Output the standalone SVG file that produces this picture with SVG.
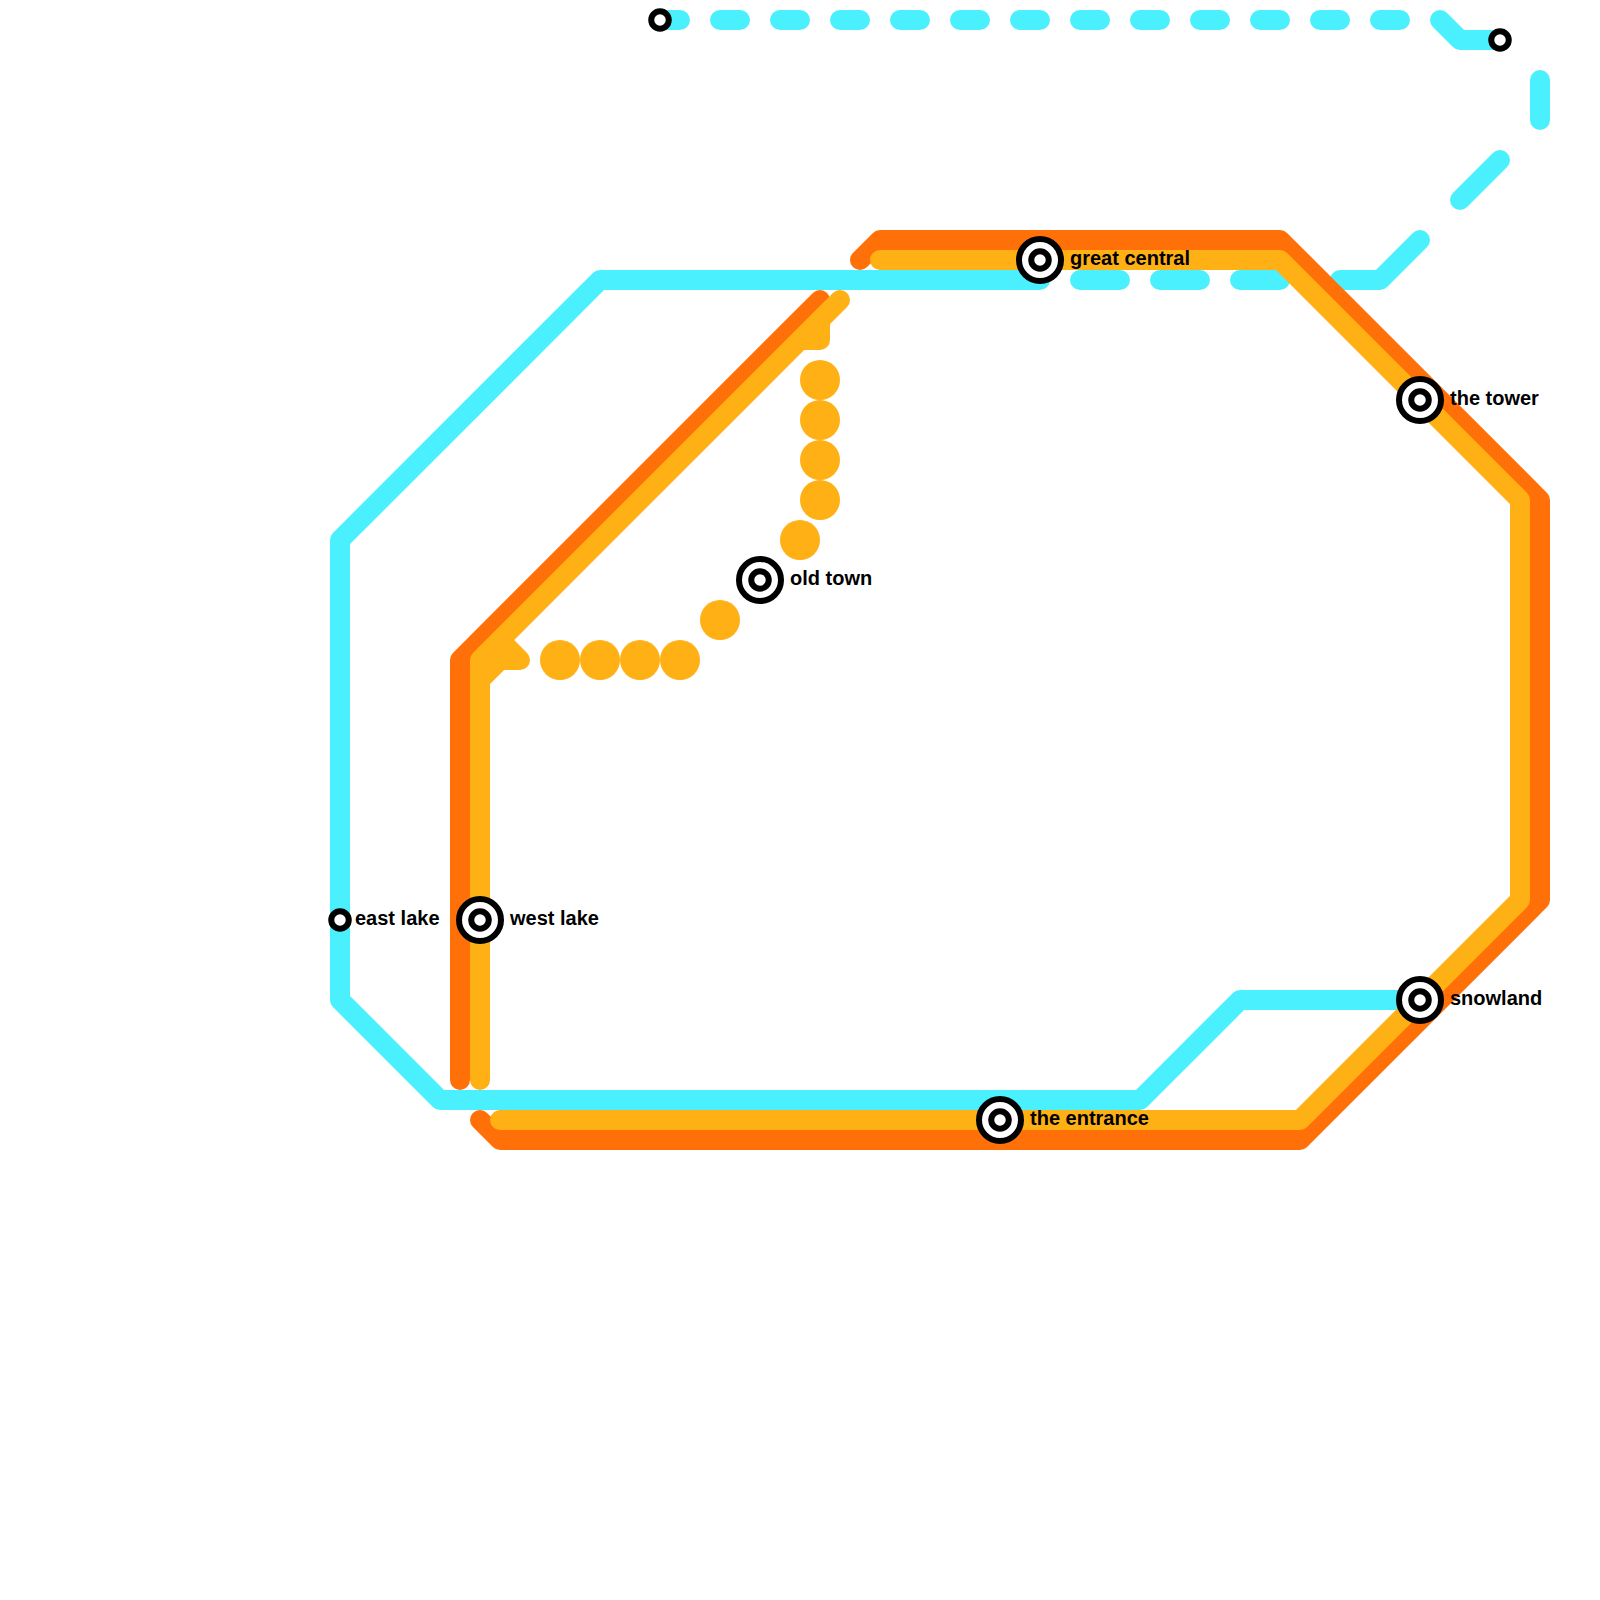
<svg xmlns="http://www.w3.org/2000/svg" width="1600" height="1600" viewBox="0 0 1600 1600">
<style>
.l{fill:none;stroke-width:20;stroke-linecap:round;stroke-linejoin:round}
.b{stroke:#4bf0ff}.o{stroke:#ff7008}.a{stroke:#ffb014}
.d{fill:#ffb014}
.r{fill:#fff;stroke:#000;stroke-width:6}
.i{fill:#fff;stroke:#000;stroke-width:6}
.s{fill:#fff;stroke:#000;stroke-width:6}
text{font-family:"Liberation Sans",Arial,sans-serif;font-size:20px;font-weight:700;fill:#000}
</style>
<rect width="1600" height="1600" fill="#fff"/>
<g id="connectors">
<path class="l b" d="M1040 280H600L340 540V1000L440 1100H1140L1240 1000H1420"/>
<path class="l b" stroke-dasharray="20 40" d="M660 20H1440"/>
<path class="l b" d="M1440 20L1460 40H1500M1080 280H1120M1160 280H1200M1240 280H1280M1340 280H1380L1420 240M1460 200L1500 160M1540 80V120"/>
<path class="l o" d="M480 1120L500 1140H1300L1540 900V500L1280 240H880L860 260"/>
<path class="l o" d="M460 1080V660L820 300"/>
<path class="l a" d="M500 1120H1300L1520 900V500L1280 260H880"/>
<path class="l a" d="M480 1080V660L840 300"/>
<path class="l a" d="M480 680L500 660H520L500 640M800 340H820V320"/>
<g class="d">
<circle cx="560" cy="660" r="20"/><circle cx="600" cy="660" r="20"/><circle cx="640" cy="660" r="20"/><circle cx="680" cy="660" r="20"/><circle cx="720" cy="620" r="20"/><circle cx="800" cy="540" r="20"/><circle cx="820" cy="500" r="20"/><circle cx="820" cy="460" r="20"/><circle cx="820" cy="420" r="20"/><circle cx="820" cy="380" r="20"/>
</g>
</g>
<g id="st-west-lake"><circle class="r" cx="480" cy="920" r="21"/><circle class="i" cx="480" cy="920" r="8.75"/><text x="510" y="925">west lake</text></g>
<g id="st-old-town"><circle class="r" cx="760" cy="580" r="21"/><circle class="i" cx="760" cy="580" r="8.75"/><text x="790" y="585">old town</text></g>
<g id="st-great-central"><circle class="r" cx="1040" cy="260" r="21"/><circle class="i" cx="1040" cy="260" r="8.75"/><text x="1070" y="265">great central</text></g>
<g id="st-the-tower"><circle class="r" cx="1420" cy="400" r="21"/><circle class="i" cx="1420" cy="400" r="8.75"/><text x="1450" y="405">the tower</text></g>
<g id="st-snowland"><circle class="r" cx="1420" cy="1000" r="21"/><circle class="i" cx="1420" cy="1000" r="8.75"/><text x="1450" y="1005">snowland</text></g>
<g id="st-the-entrance"><circle class="r" cx="1000" cy="1120" r="21"/><circle class="i" cx="1000" cy="1120" r="8.75"/><text x="1030" y="1125">the entrance</text></g>
<g id="st-east-lake"><circle class="s" cx="340" cy="920" r="8.75"/><text x="355" y="925">east lake</text></g>
<g id="st-north-a"><circle class="s" cx="660" cy="20" r="8.75"/></g>
<g id="st-north-b"><circle class="s" cx="1500" cy="40" r="8.75"/></g>
</svg>
